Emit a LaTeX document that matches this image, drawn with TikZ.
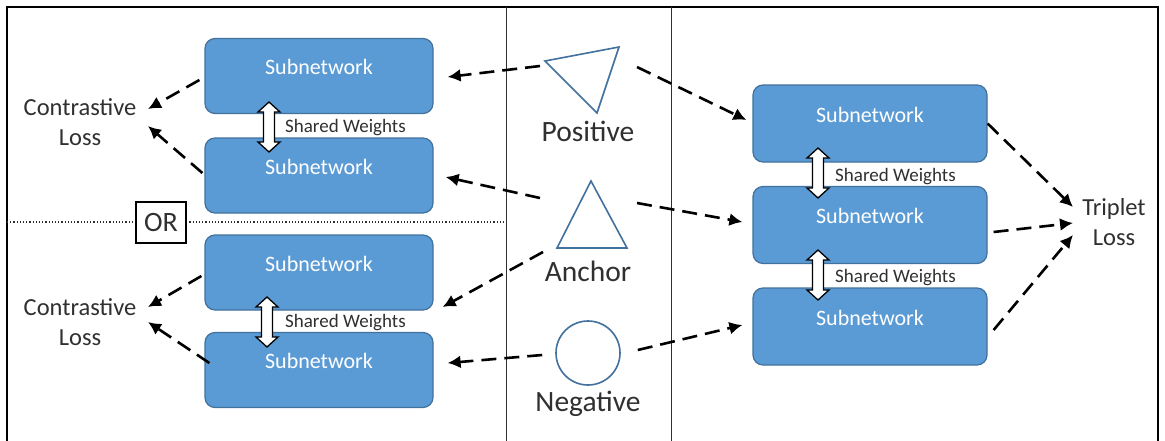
\documentclass[tikz,border=0pt]{standalone}
\usepackage{fontspec}
\setmainfont{Carlito}
\usetikzlibrary{arrows.meta,calc}
\definecolor{boxfill}{HTML}{5B9BD5}
\definecolor{boxline}{HTML}{41719C}
\definecolor{ink}{HTML}{303030}
\begin{document}
\begin{tikzpicture}[x=1pt,y=-1pt,
  subnet/.style={draw=boxline,line width=1.2pt,fill=boxfill,rounded corners=10pt,
    minimum width=228pt,minimum height=75pt,inner sep=0pt,
    label={[text=white,font=\fontsize{22}{24}\selectfont,yshift=9pt]center:Subnetwork}},
  wide/.style={minimum width=234pt,minimum height=77pt},
  losstext/.style={text=ink,align=center,font=\fontsize{24.5}{30}\selectfont,inner sep=0pt},
  sharedtext/.style={text=ink,anchor=west,inner sep=0pt,font=\fontsize{19}{20}\selectfont},
  shapetext/.style={text=ink,inner sep=0pt,font=\fontsize{29.5}{30}\selectfont},
  flow/.style={line width=2.6pt,dash pattern=on 15pt off 8pt,-{Latex[length=13pt,width=13pt]}},
  sym/.style={draw=boxline,line width=1.6pt,line join=miter},
  wts/.pic={\draw[fill=white,line width=1.3pt,line join=miter]
    (0,-25) -- (11,-15) -- (5.5,-15) -- (5.5,15) -- (11,15) -- (0,25) -- (-11,15)
    -- (-5.5,15) -- (-5.5,-15) -- (-11,-15) -- cycle;}]
\useasboundingbox (0,0) rectangle (1165,440);
\fill[white] (0,0) rectangle (1165,440);

% frame and column dividers
\draw[line width=1.6pt] (7,441) -- (7,7) -- (1158,7) -- (1158,441);
\draw[line width=1pt,ink] (506,7) -- (506,441);
\draw[line width=1pt,ink] (671,7) -- (671,441);

% separator between the two contrastive set-ups
\draw[line width=1.2pt,dotted,ink] (7,222) -- (505,222);
\node[draw,line width=1.4pt,fill=white,minimum width=50pt,minimum height=41pt,inner sep=0pt,
  font=\fontsize{28}{30}\selectfont,text=ink] (or) at (161,222.5) {OR};

% contrastive subnetworks
\node[subnet] (L1) at (319,76) {};
\node[subnet] (L2) at (319,175.5) {};
\node[subnet] (L3) at (319,272.5) {};
\node[subnet] (L4) at (319,370) {};
\pic at (269,127) {wts};
\pic at (267,322) {wts};
\node[sharedtext] (sw1) at (285,128) {Shared Weights};
\node[sharedtext] (sw2) at (285,323) {Shared Weights};

% triplet subnetworks
\node[subnet,wide] (R1) at (870,123.5) {};
\node[subnet,wide] (R2) at (870,225) {};
\node[subnet,wide] (R3) at (870,326.5) {};
\pic at (818,173) {wts};
\pic at (818,275) {wts};
\node[sharedtext] (sw3) at (835,177) {Shared Weights};
\node[sharedtext] (sw4) at (835,278) {Shared Weights};

% loss labels
\node[losstext] (cl1) at (80,122) {Contrastive\\Loss};
\node[losstext] (cl2) at (80,322) {Contrastive\\Loss};
\node[losstext] (tl) at (1114,222) {Triplet\\Loss};

% input samples
\draw[sym] (545,61) -- (619,47) -- (597,113) -- cycle;
\node[shapetext] (pos) at (588,131) {Positive};
\draw[sym] (591,181) -- (627,248) -- (557,248) -- cycle;
\node[shapetext] (anc) at (588,271) {Anchor};
\node[sym,circle,minimum size=64pt,inner sep=0pt] (neg) at (588,353) {};
\node[shapetext] (negt) at (588,404) {Negative};

\coordinate (posL) at (540,66);
\coordinate (posR) at (637,67);
\coordinate (ancL) at (540,198);
\coordinate (ancR) at (637,203);
\coordinate (ancB) at (543,252);

% sample to subnetwork
\draw[flow] (posL) -- ($(L1.east)+(14,1)$);
\draw[flow] (posR) -- ($(R1.west)+(-6,-3.5)$);
\draw[flow] (ancL) -- ($(L2.east)+(12,1.5)$);
\draw[flow] (ancR) -- ($(R2.west)+(-10,-3)$);
\draw[flow] (ancB) -- ($(L3.east)+(9,34.5)$);
\draw[flow] ($(neg.west)+(-13,2)$) -- ($(L4.east)+(14,-7)$);
\draw[flow] ($(neg.east)+(17,-3)$) -- ($(R3.west)+(-10,-1.5)$);

% subnetwork to loss
\draw[flow] ($(L1.west)+(-5,4)$) -- ($(cl1.center)+(68,-13)$);
\draw[flow] ($(L2.west)+(-2,-2.5)$) -- ($(cl1.center)+(68,4)$);
\draw[flow] ($(L3.west)+(-3,3.5)$) -- ($(cl2.center)+(68,-15)$);
\draw[flow] ($(L4.west)+(5,-7)$) -- ($(cl2.center)+(68,0)$);
\draw[flow] (R1.east) -- ($(tl.center)+(-41,-15)$);
\draw[flow] ($(R2.east)+(6,7)$) -- ($(tl.center)+(-41,1)$);
\draw[flow] ($(R3.east)+(6,3.5)$) -- ($(tl.center)+(-41,13)$);
\end{tikzpicture}
\end{document}
